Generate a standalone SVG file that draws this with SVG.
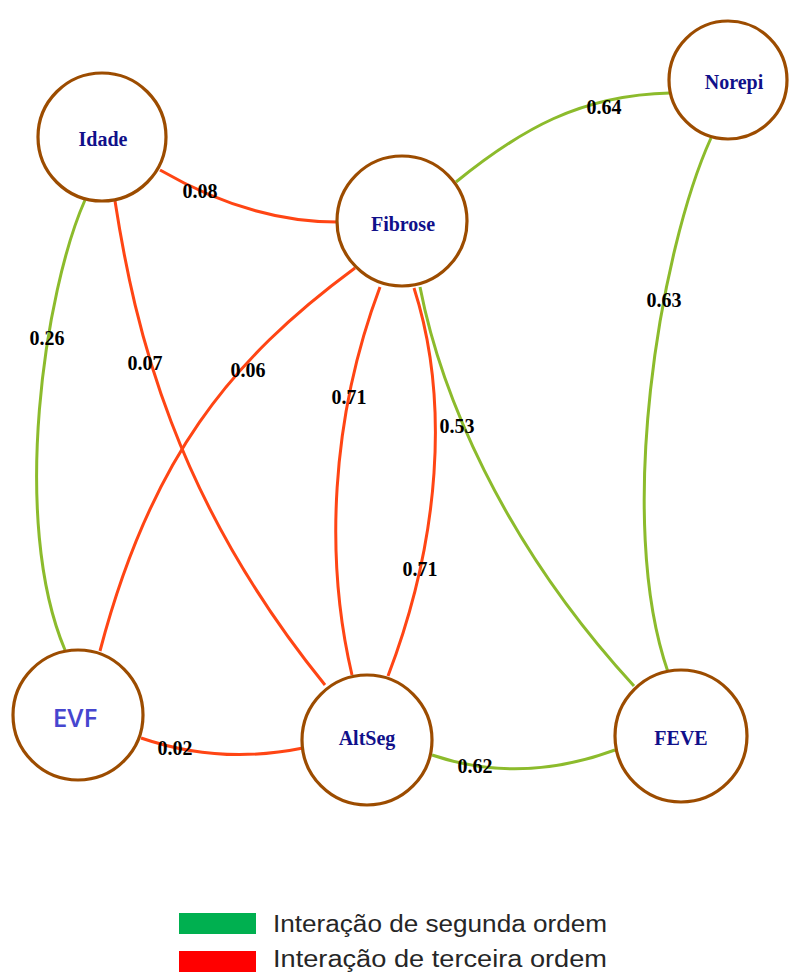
<svg xmlns="http://www.w3.org/2000/svg" width="790" height="974" viewBox="0 0 790 974">
<style>
.node circle{fill:#fff;stroke:#9c4c00;stroke-width:3.2}
.nl{font-family:"Liberation Serif","Times New Roman",serif;font-weight:bold;font-size:20px;fill:#10108a;text-anchor:middle}
.e{fill:none;stroke-width:3}
.r{stroke:#ff4514}
.g{stroke:#8cbb2c}
.el{font-family:"Liberation Serif","Times New Roman",serif;font-weight:bold;font-size:20px;fill:#000;text-anchor:middle}
.lg{font-family:"Liberation Sans",Arial,sans-serif;font-size:23px;fill:#262626}
</style>
<rect width="790" height="974" fill="#fff"/>
<g id="connectors">
<path class="e r" d="M160,170 Q250,222 337,222"/>
<path class="e g" d="M85,200 C45,290 10,520 65,650"/>
<path class="e r" d="M115,201 C135,330 175,500 325,685"/>
<path class="e r" d="M355,268 C230,360 150,460 100,651"/>
<path class="e r" d="M380,287 C330,420 325,560 352,675"/>
<path class="e r" d="M414,288 C450,400 440,540 388,676"/>
<path class="e g" d="M420,287 C440,390 500,540 634,686"/>
<path class="e g" d="M456,182 C520,130 580,95 670,93"/>
<path class="e g" d="M711,138 C660,250 615,520 668,672"/>
<path class="e r" d="M141,738 Q220,765 303,748"/>
<path class="e g" d="M432,755 Q520,785 615,750"/>
<text class="el" x="200" y="198">0.08</text>
<text class="el" x="47" y="345">0.26</text>
<text class="el" x="145" y="370">0.07</text>
<text class="el" x="248" y="377">0.06</text>
<text class="el" x="349" y="404">0.71</text>
<text class="el" x="457" y="433">0.53</text>
<text class="el" x="420" y="576">0.71</text>
<text class="el" x="604" y="114">0.64</text>
<text class="el" x="664" y="307">0.63</text>
<text class="el" x="175" y="755">0.02</text>
<text class="el" x="475" y="773">0.62</text>
</g>
<g id="idade" class="node"><circle cx="102" cy="137" r="64"/><text class="nl" x="103" y="146">Idade</text></g>
<g id="fibrose" class="node"><circle cx="402" cy="221" r="65"/><text class="nl" x="403" y="231">Fibrose</text></g>
<g id="norepi" class="node"><circle cx="728" cy="80" r="59"/><text class="nl" x="734" y="89">Norepi</text></g>
<g id="evf" class="node"><circle cx="78" cy="715" r="65"/><text x="75" y="727" text-anchor="middle" font-family="'Open Sans','Noto Sans',sans-serif" font-weight="600" font-size="26" fill="#4646cf">EVF</text></g>
<g id="altseg" class="node"><circle cx="367" cy="740" r="65"/><text class="nl" x="367" y="745">AltSeg</text></g>
<g id="feve" class="node"><circle cx="681" cy="736" r="66"/><text class="nl" x="681" y="745">FEVE</text></g>
<g id="legend">
<rect x="179" y="913" width="77" height="21" fill="#00b050"/>
<rect x="179" y="951" width="77" height="21" fill="#ff0000"/>
<text class="lg" x="273" y="932" textLength="334" lengthAdjust="spacingAndGlyphs">Interação de segunda ordem</text>
<text class="lg" x="273" y="967" textLength="334" lengthAdjust="spacingAndGlyphs">Interação de terceira ordem</text>
</g>
</svg>
